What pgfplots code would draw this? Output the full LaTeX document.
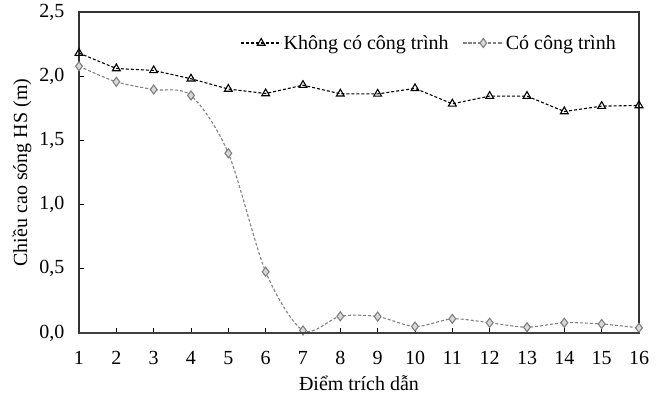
\documentclass[border=0pt]{standalone}
\usepackage{fontspec}
\setmainfont{Liberation Serif}
\usepackage{pgfplots}
\pgfplotsset{compat=1.18}
\begin{document}
\begin{tikzpicture}
\begin{axis}[
  width=560pt, height=321pt, scale only axis,
  xmin=1, xmax=16, ymin=0, ymax=2.5,
  xtick={1,...,16},
  ytick={0,0.5,1,1.5,2,2.5},
  tick align=inside,
  xtick pos=bottom, ytick pos=left,
  major tick length=5pt,
  every tick/.style={black, line width=0.9pt},
  axis line style={line width=1.1pt, black!80},
  /pgf/number format/.cd, fixed, fixed zerofill, precision=1, use comma, assume math mode=true,
  /pgfplots/.cd,
  xticklabel style={/pgf/number format/precision=0, /pgf/number format/fixed zerofill=false},
  tick label style={font=\fontsize{20}{23}\selectfont},
  yticklabel style={anchor=east, xshift=-11pt},
  xticklabel style={anchor=base, yshift=-32pt},
  label style={font=\fontsize{20}{23}\selectfont},
  xlabel={Điểm trích dẫn},
  ylabel={Chiều cao sóng HS (m)},
  xlabel style={at={(axis description cs:0.5,0)}, anchor=base, yshift=-58pt, inner sep=0pt},
  ylabel style={at={(axis description cs:-0.1018,0.5)}, anchor=center, inner sep=0pt},
  legend columns=2,
  legend style={draw=none, fill=none, at={(axis description cs:0.9625,0.9034)}, anchor=east,
    font=\fontsize{20}{23}\selectfont, inner sep=0pt,
    nodes={inner sep=2pt},
    /tikz/every even column/.append style={column sep=12pt}},
  legend image code/.code={\draw[#1, mark repeat=2, mark phase=2] plot coordinates {(0pt,0pt) (20pt,0pt) (40pt,0pt)};},
  clip mode=individual,
]
\addplot[black, line width=1.1pt, dash pattern=on 3pt off 2pt,
  mark=triangle, mark size=4.5pt, mark options={solid, line width=1.1pt, fill=white}]
  coordinates {
  (1,2.18) (2,2.06) (3,2.045) (4,1.98) (5,1.90) (6,1.865) (7,1.93) (8,1.863)
  (9,1.862) (10,1.905) (11,1.785) (12,1.845) (13,1.845) (14,1.725) (15,1.767) (16,1.772)
  };
\addlegendentry{Không có công trình}
\addplot[gray, line width=1.1pt, dash pattern=on 3pt off 2pt, smooth, tension=0.5,
  mark=diamond*, mark size=4.5pt, mark options={solid, line width=1.1pt, draw=gray, fill=gray!30}]
  coordinates {
  (1,2.078) (2,1.956) (3,1.896) (4,1.85) (5,1.40) (6,0.477) (7,0.02) (8,0.13)
  (9,0.128) (10,0.05) (11,0.11) (12,0.08) (13,0.045) (14,0.08) (15,0.07) (16,0.04)
  };
\addlegendentry{Có công trình}
\draw[black!75, line width=1.5pt] (rel axis cs:0,0) -- (rel axis cs:1,0);
\path (rel axis cs:1,1) ++(23pt,12pt);
\path (rel axis cs:0,0) ++(-79pt,-65pt);
\end{axis}
\end{tikzpicture}
\end{document}
